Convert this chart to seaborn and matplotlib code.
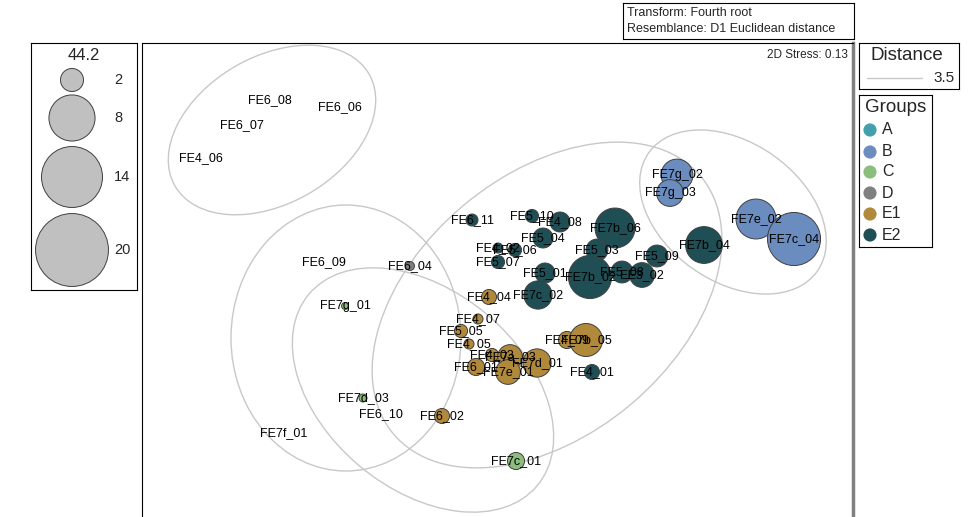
import numpy as np
import pandas as pd
import seaborn as sns
import matplotlib.pyplot as plt
from matplotlib.patches import Ellipse

# nMDS coordinates, groups and bubble values (44.2 variable)
samples = ['FE6_08', 'FE6_06', 'FE6_07', 'FE4_06', 'FE6_09', 'FE6_10', 'FE7f_01',
           'FE7g_02', 'FE7g_03', 'FE7e_02', 'FE7c_04',
           'FE7g_01', 'FE7d_03', 'FE7c_01',
           'FE6_04',
           'FE4_04', 'FE4_07', 'FE5_05', 'FE4_05', 'FE4_09', 'FE7b_05', 'FE4_03',
           'FE7a_03', 'FE7d_01', 'FE7e_01', 'FE6_01', 'FE6_02',
           'FE6_11', 'FE5_10', 'FE4_08', 'FE7b_06', 'FE5_04', 'FE4_02', 'FE5_06',
           'FE5_07', 'FE5_03', 'FE5_01', 'FE7b_02', 'FE5_08', 'FE3_02', 'FE5_09',
           'FE7c_02', 'FE7b_04', 'FE4_01']
group = ['A'] * 7 + ['B'] * 4 + ['C'] * 3 + ['D'] + ['E1'] * 12 + ['E2'] * 17
mds1 = [-2.30, -1.60, -2.58, -2.99, -1.76, -1.19, -2.16,
        1.77, 1.70, 2.56, 2.94,
        -1.55, -1.37, 0.16,
        -0.90,
        -0.11, -0.22, -0.39, -0.31, 0.67, 0.86, -0.08, 0.10, 0.37, 0.08, -0.24, -0.58,
        -0.28, 0.32, 0.60, 1.15, 0.43, -0.02, 0.15, -0.02, 0.97, 0.45, 0.90, 1.22,
        1.42, 1.57, 0.38, 2.04, 0.92]
mds2 = [2.00, 1.93, 1.75, 1.42, 0.38, -1.14, -1.33,
        1.25, 1.07, 0.81, 0.61,
        -0.06, -0.98, -1.61,
        0.34,
        0.03, -0.19, -0.31, -0.44, -0.40, -0.40, -0.55, -0.57, -0.63, -0.72, -0.67, -1.16,
        0.80, 0.84, 0.78, 0.72, 0.62, 0.52, 0.50, 0.38, 0.50, 0.27, 0.23, 0.28,
        0.25, 0.44, 0.05, 0.55, -0.72]
value = [0, 0, 0, 0, 0, 0, 0,
         3.8, 2.7, 6.0, 10.6,
         0.18, 0.24, 1.1,
         0.3,
         0.85, 0.38, 0.65, 0.38, 1.1, 4.1, 0.65, 2.3, 3.0, 2.3, 1.1, 0.85,
         0.54, 0.65, 1.5, 6.0, 1.5, 0.38, 0.65, 0.65, 1.8, 1.5, 7.0, 1.8,
         2.3, 1.8, 3.0, 5.1, 0.85]

groups = ['A', 'B', 'C', 'D', 'E1', 'E2']
colors = ['#41a0ab', '#6a8cbe', '#8bbd7c', '#808080', '#b0893a', '#1f4e55']

# Distance 3.5 cluster outlines: centre x, centre y, width, height, angle
ell_x = [-2.28, 0.47, 2.33, -1.54, -0.77]
ell_y = [1.70, -0.05, 0.88, -0.38, -0.90]
ell_w = [2.24, 4.01, 2.06, 2.30, 2.98]
ell_h = [1.47, 2.60, 1.39, 2.66, 1.98]
ell_a = [30, 40, -35, 0, -40]

size_legend = [2, 8, 14, 20]

df = pd.DataFrame({'Sample': samples, 'Group': group, 'MDS1': mds1,
                   'MDS2': mds2, 'Value': value})

K = 137.8  # marker area (pt^2) per unit of value

sns.set_style('white')
plt.rcParams['font.family'] = ['Liberation Sans', 'DejaVu Sans']

fig = plt.figure(figsize=(9.71, 5.17), dpi=100)
W, H = 971, 517


def px_axes(x0, y0, x1, y1):
    return fig.add_axes([x0 / W, 1 - y1 / H, (x1 - x0) / W, (y1 - y0) / H])


ax = px_axes(142, 43, 853, 517)
palette = dict(zip(groups, colors))

for cx, cy, w, h, a in zip(ell_x, ell_y, ell_w, ell_h, ell_a):
    ax.add_patch(Ellipse((cx, cy), w, h, angle=a, fill=False,
                         edgecolor='#c8c8c8', linewidth=1, zorder=1))

sns.scatterplot(data=df, x='MDS1', y='MDS2', hue='Group', hue_order=groups,
                palette=palette, size='Value', sizes=(0, K * 20),
                size_norm=(0, 20), edgecolor='#404040', linewidth=0.7,
                alpha=1, legend=False, ax=ax, zorder=2)

for _, r in df.iterrows():
    ax.text(r['MDS1'], r['MDS2'], r['Sample'], ha='center', va='center',
            fontsize=9, color='black', zorder=3)

ax.set_xlim(-3.58, 3.53)
ax.set_ylim(-2.17, 2.57)
ax.set_xticks([])
ax.set_yticks([])
ax.set_xlabel('')
ax.set_ylabel('')
for s in ['left', 'top']:
    ax.spines[s].set_color('black')
    ax.spines[s].set_linewidth(0.8)
ax.spines['bottom'].set_visible(False)
ax.spines['right'].set_color('#808080')
ax.spines['right'].set_linewidth(2.5)
ax.text(0.993, 0.975, '2D Stress: 0.13', transform=ax.transAxes, ha='right',
        va='center', fontsize=8.5)

# bubble size legend
lg = px_axes(31, 43, 137, 290)
lg.set_xlim(0, 106)
lg.set_ylim(247, 0)
lg.set_xticks([])
lg.set_yticks([])
for s in lg.spines.values():
    s.set_color('black')
    s.set_linewidth(0.8)
ly = [37, 75, 134, 207]
lg.scatter([41] * 4, ly, s=[K * v for v in size_legend], color='#c0c0c0',
           edgecolor='#404040', linewidth=0.7)
for v, y in zip(size_legend, ly):
    lg.text(83, y, str(v), ha='left', va='center', fontsize=10.5)
lg.text(53, 12, '44.2', ha='center', va='center', fontsize=12)

# distance legend
dl = px_axes(859, 43, 959, 89)
dl.set_xlim(0, 100)
dl.set_ylim(46, 0)
dl.set_xticks([])
dl.set_yticks([])
for s in dl.spines.values():
    s.set_color('black')
    s.set_linewidth(0.8)
dl.text(48, 13, 'Distance', ha='center', va='center', fontsize=13.5)
dl.plot([8, 63], [35, 35], color='#c8c8c8', linewidth=1)
dl.text(96, 35, '3.5', ha='right', va='center', fontsize=11)

# group legend
gl = px_axes(859, 95, 932, 247)
gl.set_xlim(0, 73)
gl.set_ylim(152, 0)
gl.set_xticks([])
gl.set_yticks([])
for s in gl.spines.values():
    s.set_color('black')
    s.set_linewidth(0.8)
gl.text(37, 12, 'Groups', ha='center', va='center', fontsize=13.5)
gy = [35, 57, 77, 98, 119, 140]
gl.scatter([11] * 6, gy, s=90, c=colors, linewidth=0)
for g, y in zip(groups, gy):
    gl.text(23, y, g, ha='left', va='center', fontsize=11.5)

# transform / resemblance note
tl = px_axes(623, 3, 854, 39)
tl.set_xlim(0, 231)
tl.set_ylim(36, 0)
tl.set_xticks([])
tl.set_yticks([])
for s in tl.spines.values():
    s.set_color('black')
    s.set_linewidth(0.8)
tl.text(4, 10, 'Transform: Fourth root', ha='left', va='center', fontsize=9)
tl.text(4, 26, 'Resemblance: D1 Euclidean distance', ha='left', va='center',
        fontsize=9)

fig.savefig('out.png', dpi=100)
